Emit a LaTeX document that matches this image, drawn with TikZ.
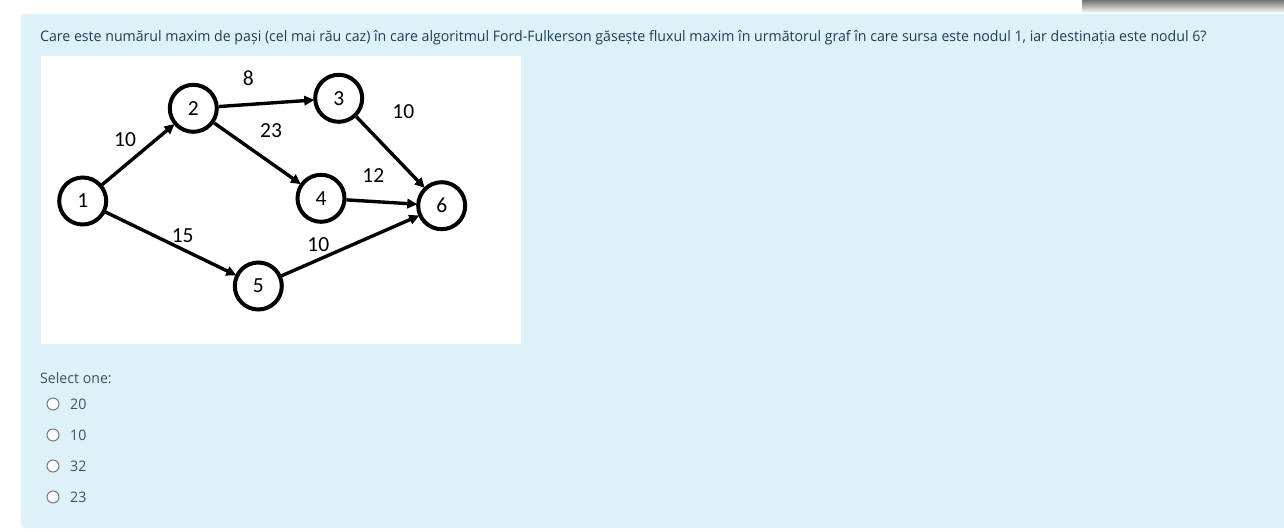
\documentclass[tikz,border=0pt]{standalone}
\usepackage{fontspec}
\usepackage{tikz}
\usetikzlibrary{arrows.meta}
\newfontfamily\uifont[FakeStretch=0.975]{Open Sans}
\newfontfamily\figfont{Carlito}
\definecolor{panelbg}{RGB}{222,241,248}
\definecolor{qtext}{RGB}{30,62,84}
\definecolor{otext}{RGB}{58,82,98}
\definecolor{radioline}{RGB}{120,120,120}

\tikzset{
  vertex/.style={circle, draw, line width=4pt, minimum size=47pt, inner sep=0pt, font=\figfont\fontsize{21.5}{21.5}\selectfont},
  flow/.style={line width=3.4pt, -{Triangle[length=10pt,width=9.5pt]}, shorten >=-1pt},
  weight/.style={font=\figfont\fontsize{21.5}{21.5}\selectfont, inner sep=0pt},
  radio/.style={circle, draw=radioline, fill=white, line width=1pt, minimum size=12pt, inner sep=0pt},
  choice/.style={anchor=west, text=otext, font=\uifont\fontsize{14.5}{16}\selectfont, inner sep=0pt}
}

\begin{document}
\begin{tikzpicture}[x=1pt, y=-1pt]
        \useasboundingbox (0, 0) rectangle (1284, 532);
        \fill [white] (0, 0) rectangle (1284, 532);
        \shade [top color=gray!90!black, middle color=gray!70, bottom color=white] (1082, 0) rectangle (1284, 13);
        \fill [panelbg, rounded corners=4pt] (21, 14) rectangle (1300, 528);
        \node [anchor=west, text=qtext, inner sep=0pt, font=\uifont\fontsize{14.5}{17}\selectfont] (question) at (40, 38)
            {Care este numărul maxim de pași (cel mai rău caz) în care algoritmul Ford-Fulkerson găsește fluxul maxim în următorul graf în care sursa este nodul 1, iar destinația este nodul 6?};
        \fill [white] (41, 56) rectangle (521, 344);

        \node [vertex] (n1) at (82.7, 201) {1};
        \node [vertex] (n2) at (193.3, 108.3) {2};
        \node [vertex] (n3) at (338.7, 98.3) {3};
        \node [vertex] (n4) at (321, 198.3) {4};
        \node [vertex] (n5) at (258.3, 286) {5};
        \node [vertex] (n6) at (441.7, 205.7) {6};

        \draw [flow] (n1) -- (n2);
        \draw [flow] (n1) -- (n5);
        \draw [flow] (n2) -- (n3);
        \draw [flow] (n2) -- (n4);
        \draw [flow] (n3) -- (n6);
        \draw [flow] (n4) -- (n6);
        \draw [flow] (n5) -- (n6);

        \node [weight] (w12) at (125, 140) {10};
        \node [weight] (w15) at (182.7, 235.7) {15};
        \node [weight] (w23) at (248.3, 78.3) {8};
        \node [weight] (w24) at (271, 131) {23};
        \node [weight] (w36) at (403.3, 111.7) {10};
        \node [weight] (w46) at (373.3, 175.7) {12};
        \node [weight] (w56) at (318.3, 245) {10};

        \node [choice] (select) at (40, 378) {Select one:};
        \foreach \val/\ypos [count=\i] in {20/404, 10/435, 32/466, 23/497} {
            \node [radio] (r\i) at (53, \ypos) {};
            \node [choice] (a\i) at (70, \ypos) {\val};
        }
    \end{tikzpicture}
\end{document}
